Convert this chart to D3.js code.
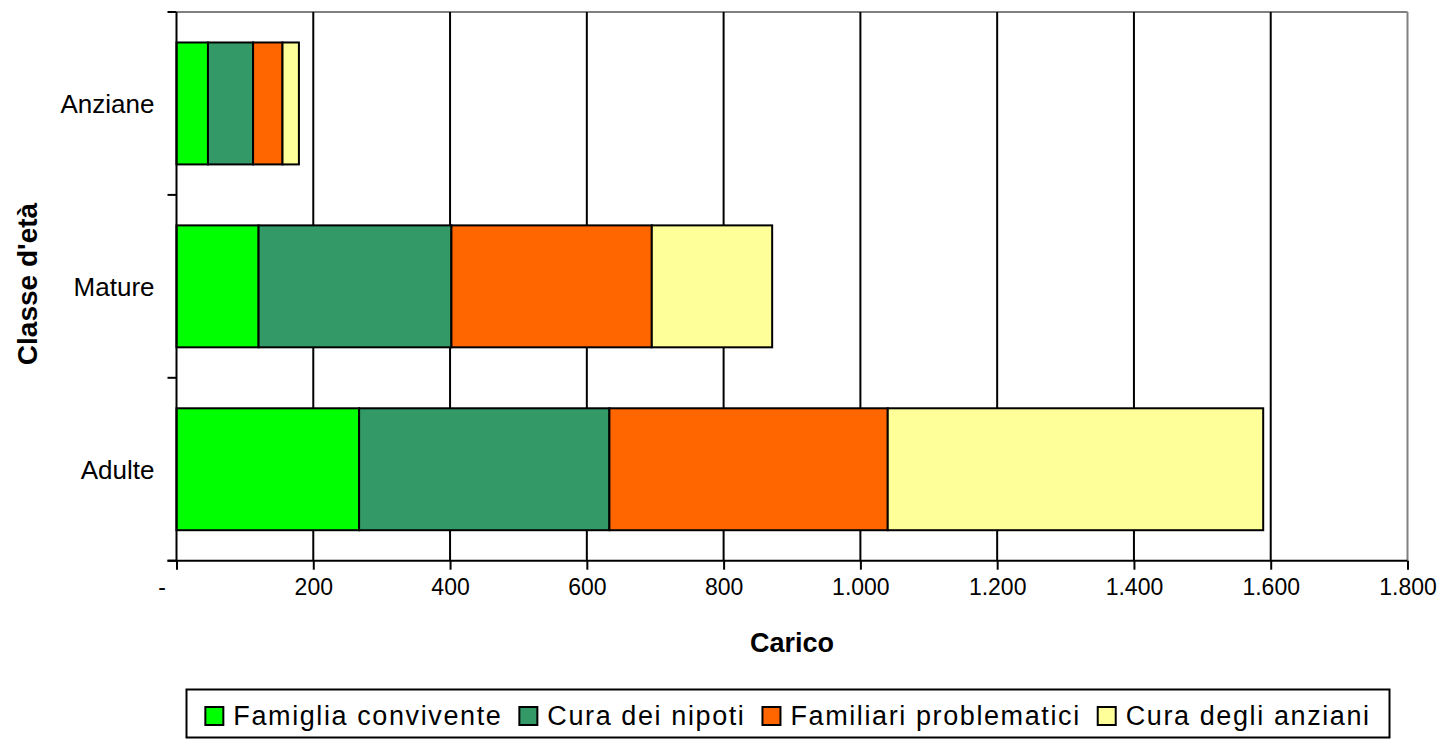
<!DOCTYPE html>
<html>
<head>
<meta charset="utf-8">
<script src="https://cdn.jsdelivr.net/npm/d3@7"></script>
<style>
  html, body { margin: 0; padding: 0; background: #fff; }
  svg { display: block; font-family: "Liberation Sans", Arial, sans-serif; }
</style>
</head>
<body>
<svg id="chart" width="1441" height="739"></svg>
<script>
// ---- Data ----
const categories = ["Anziane", "Mature", "Adulte"];
const seriesNames = ["Famiglia convivente", "Cura dei nipoti", "Familiari problematici", "Cura degli anziani"];
const famigliaConvivente = [46, 120, 267];
const curaNipoti = [66, 282, 366];
const familiariProblematici = [43, 293, 407];
const curaAnziani = [24, 176, 549];
const seriesColors = ["#00FF00", "#339966", "#FF6600", "#FFFF99"];
const xTicks = [0, 200, 400, 600, 800, 1000, 1200, 1400, 1600, 1800];
const xTitle = "Carico";
const yTitle = "Classe d'età";

(function () {
// ---- Build table ----
const seriesValues = [famigliaConvivente, curaNipoti, familiariProblematici, curaAnziani];
const table = categories.map((c, i) => {
  const row = { cat: c };
  seriesNames.forEach((s, j) => row[s] = seriesValues[j][i]);
  return row;
});
const stacked = d3.stack().keys(seriesNames)(table);

// ---- Layout ----
const pL = 176.5, pR = 1407.5, pT = 12, pB = 560.7;
const svg = d3.select("#chart");

const x = d3.scaleLinear().domain([0, 1800]).range([pL, pR]);
const y = d3.scaleBand().domain(categories).range([pT, pB])
  .paddingInner(1/3).paddingOuter(1/6);

const it = d3.formatLocale({ decimal: ",", thousands: ".", grouping: [3], currency: ["€", ""] });
const fmt = it.format(",.0f");

// plot border (gray top & right)
svg.append("line").attr("x1", pL).attr("x2", pR).attr("y1", pT).attr("y2", pT)
  .attr("stroke", "#808080").attr("stroke-width", 2);
svg.append("line").attr("x1", pR).attr("x2", pR).attr("y1", pT).attr("y2", pB)
  .attr("stroke", "#808080").attr("stroke-width", 2);

// gridlines
svg.append("g").selectAll("line")
  .data(xTicks.filter(t => t > 0 && t < 1800))
  .join("line")
  .attr("x1", d => x(d)).attr("x2", d => x(d))
  .attr("y1", pT).attr("y2", pB)
  .attr("stroke", "#000").attr("stroke-width", 2);

// bars
svg.append("g").selectAll("g")
  .data(stacked)
  .join("g")
  .attr("fill", (d, i) => seriesColors[i])
  .selectAll("rect")
  .data(d => d)
  .join("rect")
  .attr("x", d => x(d[0]))
  .attr("width", d => x(d[1]) - x(d[0]))
  .attr("y", d => y(d.data.cat))
  .attr("height", y.bandwidth())
  .attr("stroke", "#000").attr("stroke-width", 2);

// x axis
const xAxis = svg.append("g").attr("transform", `translate(0,${pB})`)
  .call(d3.axisBottom(x).tickValues(xTicks).tickSize(9).tickPadding(9)
    .tickFormat(d => d === 0 ? "-" : fmt(d)));
xAxis.select(".domain").remove();
xAxis.selectAll(".tick line").attr("stroke", "#000").attr("stroke-width", 2);
xAxis.selectAll(".tick text").attr("fill", "#000")
  .style("font-size", "23px").style("font-family", "Liberation Sans, Arial, sans-serif")
  .attr("dx", d => d === 0 ? -15 : 0);
svg.append("line").attr("x1", pL - 9).attr("x2", pR).attr("y1", pB).attr("y2", pB)
  .attr("stroke", "#000").attr("stroke-width", 2);

// y axis
const yAxis = svg.append("g").attr("transform", `translate(${pL},0)`)
  .call(d3.axisLeft(y).tickSize(0).tickPadding(22));
yAxis.select(".domain").remove();
yAxis.selectAll(".tick text").attr("fill", "#000")
  .style("font-size", "26px").style("font-family", "Liberation Sans, Arial, sans-serif")
  .attr("dy", "0.36em");
const bounds = d3.range(categories.length + 1).map(i => pT + i * y.step());
svg.append("g").selectAll("line").data(bounds).join("line")
  .attr("x1", pL - 9).attr("x2", pL).attr("y1", d => d).attr("y2", d => d)
  .attr("stroke", "#000").attr("stroke-width", 2);
svg.append("line").attr("x1", pL).attr("x2", pL).attr("y1", pT).attr("y2", pB)
  .attr("stroke", "#000").attr("stroke-width", 2);

// titles
svg.append("text").attr("x", (pL + pR) / 2).attr("y", 652)
  .attr("text-anchor", "middle").style("font-size", "27px").style("font-weight", "bold")
  .text(xTitle);
svg.append("text").attr("transform", `translate(37,284) rotate(-90)`)
  .attr("text-anchor", "middle").style("font-size", "28px").style("font-weight", "bold")
  .text(yTitle);

// legend
svg.append("rect").attr("x", 186.5).attr("y", 689.5).attr("width", 1203).attr("height", 48)
  .attr("fill", "#fff").attr("stroke", "#000").attr("stroke-width", 2);
const legend = svg.append("g");
const lgFont = 27, sw = 18, swGap = 10, itemGap = 17;
let cx = 0;
seriesNames.forEach((name, i) => {
  const g = legend.append("g");
  g.append("rect").attr("x", 0).attr("y", 707).attr("width", sw).attr("height", sw)
    .attr("fill", seriesColors[i]).attr("stroke", "#000").attr("stroke-width", 2);
  const t = g.append("text").attr("x", sw + swGap).attr("y", 725)
    .style("font-size", lgFont + "px").style("letter-spacing", "1.6px").text(name);
  const w = sw + swGap + t.node().getComputedTextLength();
  g.attr("transform", `translate(${cx},0)`);
  cx += w + itemGap;
});
const totalW = cx - itemGap;
legend.attr("transform", `translate(${788 - totalW / 2},0)`);
})();
</script>
</body>
</html>
